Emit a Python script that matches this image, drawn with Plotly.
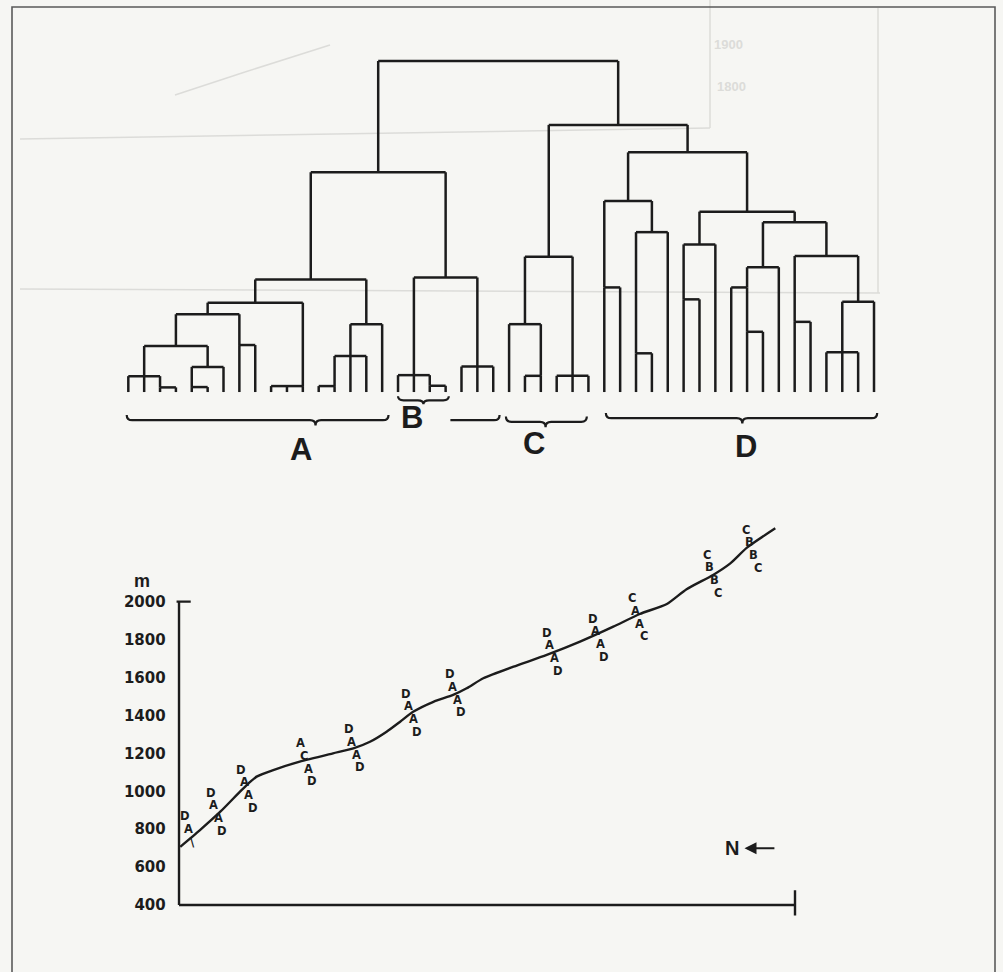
import plotly.graph_objects as go

# ---------------- DATA ----------------
# Dendrogram: node -> (fusion level, children); leaves are upper-case ids
DENDRO = {
    'root': (100.0, ['AB', 'CD']),
    'AB': (66.4, ['A', 'BE']),
    'A': (34.0, ['a1_12', 'a13_17']),
    'a1_12': (27.0, ['a1_9', 'a10_12']),
    'a1_9': (23.5, ['a1_7', 'a89']),
    'a1_7': (13.9, ['a12', 'a567']),
    'a12': (4.8, ['A1', 'A2', 'a34']),
    'a34': (1.4, ['A3', 'A4']),
    'a567': (7.6, ['a56', 'A7']),
    'a56': (1.5, ['A5', 'A6']),
    'a89': (14.2, ['A8', 'A9']),
    'a10_12': (1.8, ['A10', 'A11', 'A12']),
    'a13_17': (20.5, ['a13_16', 'A17']),
    'a13_16': (10.9, ['a1314', 'A15', 'A16']),
    'a1314': (1.8, ['A13', 'A14']),
    'BE': (34.6, ['B', 'E']),
    'B': (5.1, ['B1', 'B2', 'b34']),
    'b34': (1.9, ['B3', 'B4']),
    'E': (7.7, ['E1', 'E2', 'E3']),
    'CD': (80.7, ['C', 'D']),
    'C': (40.9, ['c123', 'c456']),
    'c123': (20.5, ['C1', 'c23']),
    'c23': (4.9, ['C2', 'C3']),
    'c456': (4.9, ['C4', 'C5', 'C6']),
    'D': (72.4, ['d1_5', 'd6_18']),
    'd1_5': (57.7, ['d12', 'd345']),
    'd12': (31.6, ['D1', 'D2']),
    'd345': (48.3, ['d34', 'D5']),
    'd34': (11.7, ['D3', 'D4']),
    'd6_18': (54.5, ['d678', 'd9_18']),
    'd678': (44.6, ['d67', 'D8']),
    'd67': (28.0, ['D6', 'D7']),
    'd9_18': (51.3, ['d9_12', 'd13_18']),
    'd9_12': (37.7, ['d9_11', 'D12']),
    'd9_11': (31.6, ['D9', 'd1011']),
    'd1011': (18.2, ['D10', 'D11']),
    'd13_18': (41.1, ['d1314', 'd15_18']),
    'd1314': (21.2, ['D13', 'D14']),
    'd15_18': (27.3, ['d15_17', 'D18']),
    'd15_17': (12.0, ['D15', 'D16', 'D17']),
}
GROUP_LABELS = ['A', 'B', 'C', 'D']

# Altitude profile along the path (distance units, m a.s.l.)
PATH_DIST = [0.2, 3.4, 6.7, 9.9, 11.3, 12.6, 15.3, 19.6, 25.0, 28.3, 31.0, 33.7,
             35.9, 38.0, 41.3, 44.5, 46.7, 49.4, 54.3, 59.7, 65.1, 70.5, 74.8,
             79.2, 82.4, 86.7, 89.5, 92.2, 96.8]
PATH_ALT = [707, 795, 892, 998, 1042, 1077, 1112, 1156, 1200, 1226, 1261, 1314,
            1367, 1419, 1472, 1508, 1543, 1596, 1657, 1719, 1789, 1868, 1935,
            1988, 2066, 2141, 2202, 2285, 2387]
Y_TICKS = [400, 600, 800, 1000, 1200, 1400, 1600, 1800, 2000]

# Relevés along the path and the groups found on them
STATION_DIST = [1.8, 6.0, 10.9, 20.6, 28.4, 37.6, 44.8, 60.5, 68.0, 74.4, 86.5, 92.9]
STATION_ALT = [769, 892, 1012, 1154, 1228, 1414, 1518, 1735, 1811, 1919, 2146, 2278]
STATION_GROUPS = [['D', 'A', '\\', ''], ['D', 'A', 'A', 'D'], ['D', 'A', 'A', 'D'],
                  ['A', 'C', 'A', 'D'], ['D', 'A', 'A', 'D'], ['D', 'A', 'A', 'D'],
                  ['D', 'A', 'A', 'D'], ['D', 'A', 'A', 'D'], ['D', 'A', 'A', 'D'],
                  ['C', 'A', 'A', 'C'], ['C', 'B', 'B', 'C'], ['C', 'B', 'B', 'C']]

# stem alignment of some small clusters as drawn in the original (style)
STEM = {'a34': 'first', 'a56': 'first', 'a89': 'first', 'a10_12': 'last',
        'a1314': 'last', 'b34': 'first', 'c23': 'last', 'd12': 'first',
        'd34': 'first', 'd67': 'first', 'd1011': 'first', 'd9_11': 'last',
        'd1314': 'first'}

INK = '#1c1c1c'
GHOST = '#dcdcd9'
BG = '#f6f6f3'
FONT = 'Liberation Sans'
WIDE = 'DejaVu Sans'
W, H = 1003, 972

# ---------------- dendrogram geometry ----------------
leaves = []


def walk(n):
    if n in DENDRO:
        for c in DENDRO[n][1]:
            walk(c)
    else:
        leaves.append(n)


walk('root')
leaf_pos = {l: i for i, l in enumerate(leaves)}
anchor = {}
level = {}


def place(n):
    if n not in DENDRO:
        anchor[n] = float(leaf_pos[n])
        level[n] = 0.0
        return
    h, ch = DENDRO[n]
    for c in ch:
        place(c)
    rule = STEM.get(n, 'mid')
    if rule == 'first':
        anchor[n] = anchor[ch[0]]
    elif rule == 'last':
        anchor[n] = anchor[ch[-1]]
    else:
        anchor[n] = (anchor[ch[0]] + anchor[ch[-1]]) / 2
    level[n] = h


place('root')
dx, dy = [], []
for n, (h, ch) in DENDRO.items():
    dx += [anchor[ch[0]], anchor[ch[-1]], None]
    dy += [h, h, None]
    for c in ch:
        dx += [anchor[c], anchor[c], None]
        dy += [level[c], h, None]

fig = go.Figure()
fig.add_trace(go.Scatter(x=dx, y=dy, mode='lines', line=dict(color=INK, width=2.5),
                         hoverinfo='skip', showlegend=False, xaxis='x', yaxis='y'))

# profile curve
fig.add_trace(go.Scatter(x=PATH_DIST, y=PATH_ALT, mode='lines',
                         line=dict(color=INK, width=2.4, shape='spline', smoothing=0.6),
                         hoverinfo='skip', showlegend=False, xaxis='x2', yaxis='y2'))

# ---------------- braces ----------------
def brace(xa, xb, xc, y0, u=1.6, r=0.35, d=1.6):
    if xc is None:
        return (f'M {xa},{y0} L {xb - r},{y0} Q {xb},{y0} {xb},{y0 + u}')
    return (f'M {xa},{y0 + u} Q {xa},{y0} {xa + r},{y0} L {xc - r},{y0} '
            f'Q {xc},{y0} {xc},{y0 - d} Q {xc},{y0} {xc + r},{y0} '
            f'L {xb - r},{y0} Q {xb},{y0} {xb},{y0 + u}')


def px_line(x0, y0, x1, y1, color, width):
    return dict(type='line', xref='paper', yref='paper', x0=x0 / W, x1=x1 / W,
                y0=1 - y0 / H, y1=1 - y1 / H, line=dict(color=color, width=width),
                layer='below')


shapes = [
    # faint show-through of the facing page
    px_line(20, 139, 710, 128, GHOST, 1.5),
    px_line(710, 0, 710, 128, GHOST, 1.5),
    px_line(20, 289, 880, 293, GHOST, 1.5),
    px_line(878, 8, 878, 293, GHOST, 1.5),
    px_line(175, 95, 245, 72, GHOST, 1.5),
    px_line(245, 72, 330, 45, GHOST, 1.5),
]
for p in [brace(-0.1, 16.4, 11.8, -8.5), brace(17.0, 20.2, 18.6, -2.5, u=1.2, d=1.2),
          brace(20.3, 23.4, None, -8.5), brace(23.8, 28.9, 26.3, -9.0),
          brace(30.1, 47.2, 38.7, -7.9)]:
    shapes.append(dict(type='path', path=p, xref='x', yref='y',
                       line=dict(color=INK, width=2.2)))

# axes of the profile
shapes += [
    dict(type='line', xref='x2', yref='y2', x0=0, x1=0, y0=400, y1=2000,
         line=dict(color=INK, width=2.4)),
    dict(type='line', xref='x2', yref='y2', x0=-0.4, x1=1.9, y0=2000, y1=2000,
         line=dict(color=INK, width=2.4)),
    dict(type='line', xref='x2', yref='y2', x0=0, x1=100, y0=400, y1=400,
         line=dict(color=INK, width=2.4)),
    dict(type='line', xref='x2', yref='y2', x0=100, x1=100, y0=345, y1=478,
         line=dict(color=INK, width=2.4)),
    dict(type='rect', xref='paper', yref='paper', x0=12 / W, x1=995 / W, y0=-0.02,
         y1=1 - 7 / H, line=dict(color='#5a5a5a', width=1.6)),
]

ann = []
# group labels
for lab, (lx, ly) in zip(GROUP_LABELS, [(10.9, -17.5), (17.9, -7.6), (25.6, -15.4), (38.9, -16.6)]):
    ann.append(dict(x=lx, y=ly, xref='x', yref='y', text=f'<b>{lab}</b>', showarrow=False,
                    xanchor='center', yanchor='middle',
                    font=dict(family=FONT, size=31, color=INK)))

# relevé letters (stacked across the profile line)
XS = [-5, -2, 2.5, 6.5]
YS = [19, 6.5, -6.5, -19]
for sx, sa, grp in zip(STATION_DIST, STATION_ALT, STATION_GROUPS):
    for k, g in enumerate(grp):
        if not g:
            continue
        ann.append(dict(x=sx, y=sa, xref='x2', yref='y2', text=f'<b>{g}</b>', showarrow=False,
                        xshift=XS[k], yshift=YS[k], xanchor='center', yanchor='middle',
                        borderpad=0, font=dict(family=WIDE, size=11.5, color=INK)))

# unit label and north arrow
ann.append(dict(x=141.7 / W, y=1 - 581 / H, xref='paper', yref='paper', text='<b>m</b>',
                showarrow=False, xanchor='center', yanchor='middle', borderpad=0,
                font=dict(family=FONT, size=18, color=INK)))
ann.append(dict(x=89.7, y=699, xref='x2', yref='y2', text='<b>N</b>', showarrow=False,
                xanchor='center', yanchor='middle',
                font=dict(family=FONT, size=20, color=INK)))
ann.append(dict(x=91.8, y=699, ax=96.9, ay=699, xref='x2', yref='y2', axref='x2', ayref='y2',
                text='', showarrow=True, arrowhead=2, arrowsize=1.2, arrowwidth=2,
                arrowcolor=INK))
# faint show-through labels
for t, (gx, gy) in [('1900', (728, 45)), ('1800', (731, 87))]:
    ann.append(dict(x=gx / W, y=1 - gy / H, xref='paper', yref='paper', text=f'<b>{t}</b>',
                    showarrow=False, xanchor='center', yanchor='middle',
                    font=dict(family=FONT, size=13, color=GHOST)))

fig.update_layout(
    width=W, height=H, margin=dict(l=0, r=0, t=0, b=0),
    paper_bgcolor=BG, plot_bgcolor='rgba(0,0,0,0)',
    xaxis=dict(domain=[0, 1], range=[-8.087, 55.13], visible=False, fixedrange=True),
    yaxis=dict(domain=[0, 1], range=[-175.2, 118.43], visible=False, fixedrange=True),
    xaxis2=dict(domain=[166.7 / W, 825.8 / W], range=[-2, 105], anchor='y2', visible=False,
                fixedrange=True),
    yaxis2=dict(domain=[(H - 918.27) / H, (H - 516.36) / H], range=[330, 2450], anchor='x2',
                tickvals=Y_TICKS, ticktext=[f'<b>{t}</b>' for t in Y_TICKS], showgrid=False,
                zeroline=False, showline=False, ticks='',
                tickfont=dict(family=WIDE, size=15, color=INK), fixedrange=True),
    shapes=shapes, annotations=ann,
)
fig.write_html('out.html', config={'displayModeBar': False, 'staticPlot': True},
               post_script="document.body.style.margin='0px';"
                           "document.body.style.background='" + BG + "';")
